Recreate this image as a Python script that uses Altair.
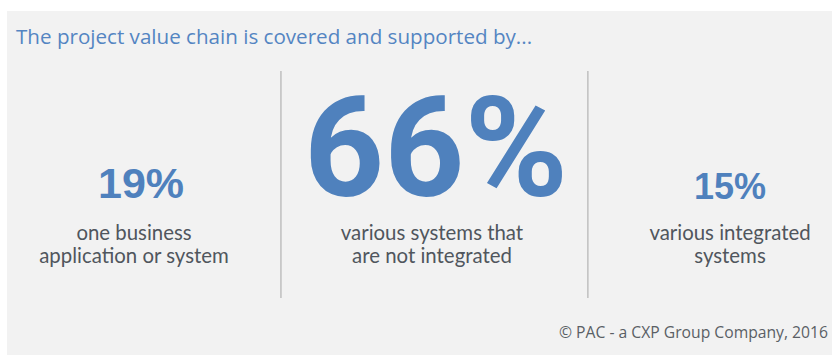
import altair as alt
import pandas as pd

# ---- data ----
title_text = ["The project value chain is covered and supported by..."]
footer_text = ["\u00a9 PAC - a CXP Group Company, 2016"]
shares = [19, 66, 15]
labels = [
    "one business\napplication or system",
    "various systems that\nare not integrated",
    "various integrated\nsystems",
]
column_index = [0, 1, 2]
divider_at = [0.493, 1.523]

W, H = 833, 355
BLUE = "#4f81bd"
GREY_TXT = "#50565d"
HEAD_FONT = "Open Sans"
BODY_FONT = "Lato"

cols = pd.DataFrame({"col": column_index, "share": shares, "label": labels})
divs = pd.DataFrame({"pos": divider_at})

# column index -> horizontal position (linear scale, 298px per column, first at 134px)
xscale = alt.Scale(domain=[-134 / 298, (W - 134) / 298], range=[0, W])
X = alt.X("col:Q", scale=xscale, axis=None)

panel = alt.Chart(pd.DataFrame({"k": [0]})).mark_rect(color="#f2f2f2").encode(
    x=alt.value(7), x2=alt.value(832), y=alt.value(11), y2=alt.value(H)
)

dividers = alt.Chart(divs).mark_rule(color="#c2c2c2", strokeWidth=1.6).encode(
    x=alt.X("pos:Q", scale=xscale, axis=None),
    y=alt.value(71),
    y2=alt.value(298),
)

title = alt.Chart(pd.DataFrame({"t": title_text})).mark_text(
    align="left", baseline="alphabetic", font=HEAD_FONT, fontSize=20.6, color="#5485c2"
).encode(x=alt.value(16), y=alt.value(44), text="t:N")

footer = alt.Chart(pd.DataFrame({"t": footer_text})).mark_text(
    align="right", baseline="alphabetic", font=HEAD_FONT, fontSize=15.7, color="#5a5f65"
).encode(x=alt.value(828), y=alt.value(338), text="t:N")

base = alt.Chart(cols).transform_calculate(pct="datum.share + '%'")

num_small_left = base.transform_filter("datum.col == 0").mark_text(
    align="center", baseline="alphabetic", font="Liberation Sans", fontWeight="bold",
    fontSize=43, color=BLUE, dx=7
).encode(x=X, y=alt.value(198), text="pct:N")

num_big = base.transform_filter("datum.col == 1").mark_text(
    align="center", baseline="alphabetic", font="Roboto", fontWeight="bold",
    fontSize=140, color=BLUE, dx=4
).encode(x=X, y=alt.value(196), text="pct:N")

num_small_right = base.transform_filter("datum.col == 2").mark_text(
    align="center", baseline="alphabetic", font="Liberation Sans", fontWeight="bold",
    fontSize=36, color=BLUE
).encode(x=X, y=alt.value(199), text="pct:N")

desc = alt.Chart(cols).mark_text(
    align="center", baseline="alphabetic", font=BODY_FONT, fontSize=20.4,
    color=GREY_TXT, lineBreak="\n", lineHeight=22.6
).encode(x=X, y=alt.value(240), text="label:N")

chart = (
    alt.layer(panel, dividers, title, footer, num_small_left, num_big, num_small_right, desc)
    .properties(width=W, height=H, padding=0, autosize=alt.AutoSizeParams(type="none"),
                background="white")
    .configure_view(stroke=None)
)

chart.save("out.html", embed_options={"renderer": "svg", "actions": False})
